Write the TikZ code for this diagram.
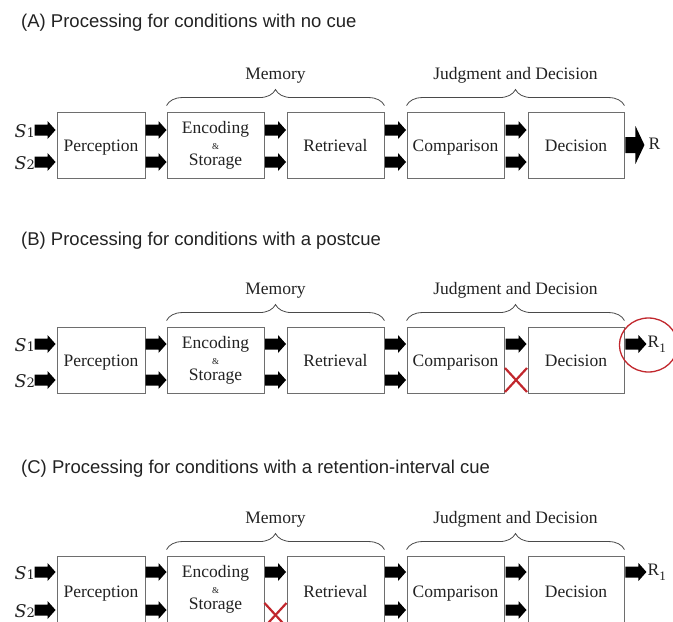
\documentclass[tikz,border=0pt]{standalone}
\usepackage{fontspec}
\setmainfont{Liberation Serif}
\newfontfamily\titlefont{Liberation Sans}
\newfontfamily\stimfont{DejaVu Serif}
\usetikzlibrary{calc,decorations.pathreplacing}
\definecolor{boxgray}{HTML}{6E6E6E}
\definecolor{bracegray}{HTML}{4A4A4A}
\definecolor{cuered}{HTML}{C1272D}
\definecolor{ink}{HTML}{222222}
\tikzset{
  box/.style={draw=boxgray,line width=0.9pt,inner sep=0pt},
  lbl/.style={font=\fontsize{17.5}{20}\selectfont,anchor=base,inner sep=0pt,text=ink},
  amp/.style={font=\fontsize{9}{10}\selectfont,anchor=base,inner sep=0pt,text=ink},
  title/.style={font=\titlefont\fontsize{18.5}{22}\selectfont,anchor=base west,inner sep=0pt,text=ink},
  stim/.style={font=\stimfont\fontsize{17.5}{20}\selectfont,anchor=base east,inner sep=0pt,text=ink},
  resp/.style={font=\fontsize{17.5}{20}\selectfont,anchor=base west,inner sep=0pt,text=ink},
  brace/.style={draw=bracegray,line width=0.8pt,decorate,decoration={brace,amplitude=16pt}},
  redx/.style={draw=cuered,line width=2.2pt},
  redring/.style={draw=cuered,line width=1.3pt},
  barrow/.pic={\fill[black] (-10.5,-5.5) -- (2.5,-5.5) -- (2.5,-9) -- (10.5,0) -- (2.5,9) -- (2.5,5.5) -- (-10.5,5.5) -- cycle;},
  bigarrow/.pic={\fill[black] (-9.5,-8) -- (0.5,-8) -- (0.5,-19) -- (9.5,0) -- (0.5,19) -- (0.5,8) -- (-9.5,8) -- cycle;},
}
% #1 suffix, #2 centre y, #3 box height, #4 row-1 offset, #5 row-2 offset
\newcommand\drawpanel[5]{%
  \node[box,minimum width=88,minimum height=#3] (P#1) at (101,#2) {};
  \node[box,minimum width=97,minimum height=#3] (E#1) at (215.5,#2) {};
  \node[box,minimum width=97,minimum height=#3] (R#1) at (335.5,#2) {};
  \node[box,minimum width=97,minimum height=#3] (C#1) at (455.5,#2) {};
  \node[box,minimum width=96,minimum height=#3] (D#1) at (576,#2) {};
  \node[lbl] (Pt#1) at ($(P#1.center)+(0,6)$) {Perception};
  \node[lbl] (Et#1) at ($(E#1.north)+(0,22)$) {Encoding};
  \node[amp] (Ea#1) at ($(E#1.north)+(0,38)$) {\&};
  \node[lbl] (Es#1) at ($(E#1.north)+(0,54)$) {Storage};
  \node[lbl] (Rt#1) at ($(R#1.center)+(0,6)$) {Retrieval};
  \node[lbl] (Ct#1) at ($(C#1.center)+(0,6)$) {Comparison};
  \node[lbl] (Dt#1) at ($(D#1.center)+(0,6)$) {Decision};
  \node[stim] (Sa#1) at ($(P#1.west)+(-21.5,#4+7)$) {\itshape S\upshape{\fontsize{13}{13}\selectfont 1}};
  \node[stim] (Sb#1) at ($(P#1.west)+(-21.5,#5+7)$) {\itshape S\upshape{\fontsize{13}{13}\selectfont 2}};
  \pic at ($(P#1.west)+(-11.5,#4)$) {barrow};
  \pic at ($(P#1.west)+(-11.5,#5)$) {barrow};
  \pic at ($(P#1.east)!.5!(E#1.west)+(0,#4)$) {barrow};
  \pic at ($(P#1.east)!.5!(E#1.west)+(0,#5)$) {barrow};
  \pic at ($(E#1.east)!.5!(R#1.west)+(0,#4)$) {barrow};
  \pic at ($(R#1.east)!.5!(C#1.west)+(0,#4)$) {barrow};
  \pic at ($(R#1.east)!.5!(C#1.west)+(0,#5)$) {barrow};
  \pic at ($(C#1.east)!.5!(D#1.west)+(0,#4)$) {barrow};
  \draw[brace] ($(E#1.north west)+(0,-6)$) -- ($(R#1.north east)+(0,-6)$);
  \draw[brace] ($(C#1.north west)+(0,-6)$) -- ($(D#1.north east)+(0,-6)$);
  \node[lbl] (M#1) at ($(E#1.north west)!.5!(R#1.north east)+(0,-32)$) {Memory};
  \node[lbl] (J#1) at ($(C#1.north west)!.5!(D#1.north east)+(0,-32)$) {Judgment and Decision};
}
\begin{document}
\begin{tikzpicture}[x=1pt,y=-1pt]
\useasboundingbox (0,0) rectangle (673,622);
\node[title] (tA) at (21,27) {(A) Processing for conditions with no cue};
\node[title] (tB) at (21,245) {(B) Processing for conditions with a postcue};
\node[title] (tC) at (21,473) {(C) Processing for conditions with a retention-interval cue};
% Panel A
\drawpanel{A}{145}{66}{-15}{17}
\pic at ($(EA.east)!.5!(RA.west)+(0,17)$) {barrow};
\pic at ($(CA.east)!.5!(DA.west)+(0,17)$) {barrow};
\pic at ($(DA.east)+(10.5,0)$) {bigarrow};
\node[resp] (OA) at ($(DA.east)+(24,4)$) {R};
% Panel B
\drawpanel{B}{360}{66}{-16}{20}
\pic at ($(EB.east)!.5!(RB.west)+(0,20)$) {barrow};
\draw[redx] ($(CB.east)!.5!(DB.west)+(-11,8)$) -- ++(22,24);
\draw[redx] ($(CB.east)!.5!(DB.west)+(-11,32)$) -- ++(22,-24);
\pic at ($(DB.east)+(11.5,-16)$) {barrow};
\node[resp] (OB) at ($(DB.east)+(23,-13)$) {R\raisebox{-5pt}{\fontsize{13}{13}\selectfont 1}};
\draw[redring] ($(DB.east)+(24,-15)$) ellipse [x radius=29, y radius=27];
% Panel C
\drawpanel{C}{591}{70}{-19}{19}
\pic at ($(CC.east)!.5!(DC.west)+(0,19)$) {barrow};
\draw[redx] ($(EC.east)!.5!(RC.west)+(-11,12)$) -- ++(22,24);
\draw[redx] ($(EC.east)!.5!(RC.west)+(-11,36)$) -- ++(22,-24);
\pic at ($(DC.east)+(11.5,-19)$) {barrow};
\node[resp] (OC) at ($(DC.east)+(23,-16)$) {R\raisebox{-5pt}{\fontsize{13}{13}\selectfont 1}};
\end{tikzpicture}
\end{document}
